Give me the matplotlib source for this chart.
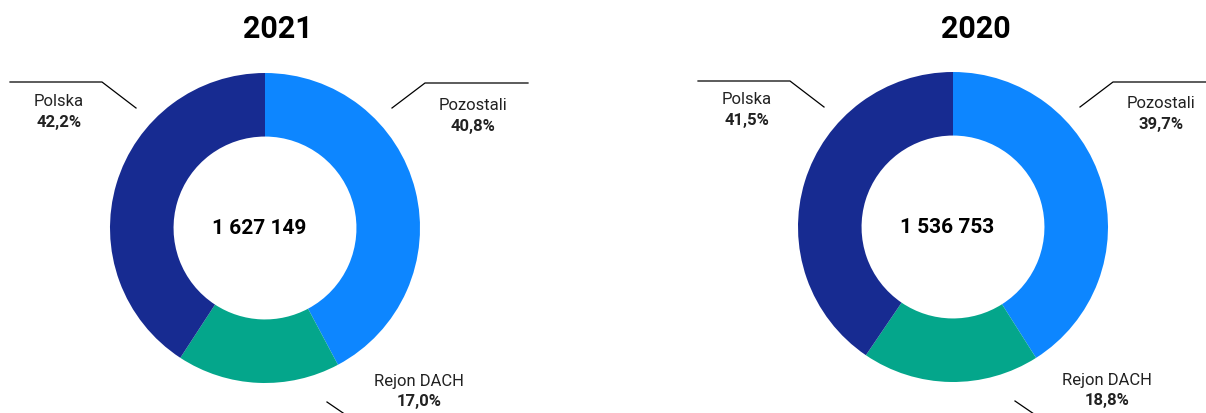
import matplotlib
matplotlib.use('Agg')
import matplotlib.pyplot as plt

# data
years = ['2021', '2020']
totals = ['1 627 149', '1 536 753']
categories = ['Pozostali', 'Rejon DACH', 'Polska']
# shares printed in the labels
labels_2021 = [40.8, 17.0, 42.2]
labels_2020 = [39.7, 18.8, 41.5]
# wedge sizes as drawn in the picture (they do not follow the labels exactly)
wedges_2021 = [42.2, 17.0, 40.8]
wedges_2020 = [41.0, 18.5, 40.5]
colors = ['#0D86FF', '#04A68B', '#172B91']

plt.rcParams['font.family'] = ['Roboto', 'DejaVu Sans']

W, H = 1206, 414
fig = plt.figure(figsize=(W / 100, H / 100), dpi=100)
ax = fig.add_axes([0, 0, 1, 1])

R = 155
centers = [(265, 414 - 229), (953, 414 - 228)]
title_dx = [13, 23]

# label layout relative to the donut centre (x right, y up)
label_pos = {
    'Polska': dict(text=(-206, 128), pct=(-206, 107),
                   line=[(-255, 146), (-163, 146), (-129, 120)]),
    'Pozostali': dict(text=(208, 124), pct=(208, 103),
                      line=[(263, 145), (160, 145), (127, 120)]),
    'Rejon DACH': dict(text=(154, -153), pct=(154, -173),
                       line=[(62, -174), (100, -200)]),
}


def fmt(v):
    return f"{v:.1f}".replace('.', ',') + '%'


for i, (year, total) in enumerate(zip(years, totals)):
    cx, cy = centers[i]
    wedges = [wedges_2021, wedges_2020][i]
    shares = [labels_2021, labels_2020][i]
    ax.pie(wedges, colors=colors, startangle=90, counterclock=False,
           radius=R, center=(cx, cy), frame=True,
           wedgeprops=dict(width=R * 0.41, linewidth=0))
    ax.text(cx + title_dx[i], 414 - 29, year, ha='center', va='center',
            fontsize=22, fontweight='bold', color='black')
    ax.text(cx - 6, cy, total, ha='center', va='center', fontsize=15,
            fontweight='bold', color='black')
    for cat, val in zip(categories, shares):
        lp = label_pos[cat]
        ax.text(cx + lp['text'][0], cy + lp['text'][1], cat, ha='center', va='center',
                fontsize=12, color='#222222')
        ax.text(cx + lp['pct'][0], cy + lp['pct'][1], fmt(val), ha='center', va='center',
                fontsize=12, fontweight='bold', color='#222222')
        xs = [cx + p[0] for p in lp['line']]
        ys = [cy + p[1] for p in lp['line']]
        ax.plot(xs, ys, color='black', linewidth=0.9)

ax.set_xlim(0, W)
ax.set_ylim(0, H)
ax.set_aspect('equal')
ax.axis('off')
fig.savefig('out.png', dpi=100)
